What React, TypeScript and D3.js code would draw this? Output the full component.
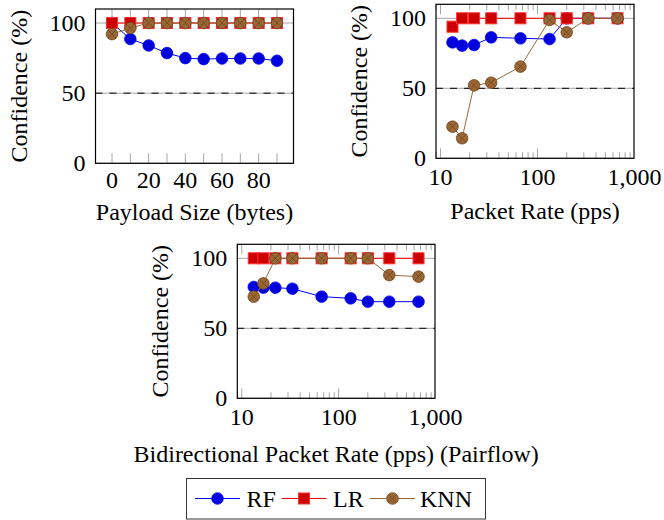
import React from "react";
import * as d3 from "d3";

// ---------- data ----------
const payloadSizes = [0, 10, 20, 30, 40, 50, 60, 70, 80, 90];
const payloadRF = [100, 88.6, 84, 78.6, 75, 74.3, 74.7, 74.7, 74.7, 73.1];
const payloadLR = [100, 100, 100, 100, 100, 100, 100, 100, 100, 100];
const payloadKNN = [92.1, 96.4, 100, 100, 100, 100, 100, 100, 100, 100];

const packetRates = [13.3, 16.7, 22.2, 33.3, 66.7, 133, 200, 333, 667];
const rateRF = [82.8, 80.5, 80.9, 86.4, 85.7, 85.2, 100, 100, 100];
const rateLR = [94, 100, 100, 100, 100, 100, 100, 100, 100];
const rateKNN = [22.6, 14.3, 52.1, 54, 65.5, 98.8, 90, 100, 100];

const pairRF = [79.5, 79, 79, 78.3, 72.6, 71.4, 69, 69, 69];
const pairLR = [100, 100, 100, 100, 100, 100, 100, 100, 100];
const pairKNN = [72.6, 82.1, 100, 100, 100, 100, 100, 88, 86.9];

const seriesNames = ["RF", "LR", "KNN"];
const yTicks = [0, 50, 100];
const yMax = 110;
const chanceLevel = 50;
const linearTicks = [0, 10, 20, 30, 40, 50, 60, 70, 80, 90];
const linearTickLabels = [0, 20, 40, 60, 80];
const logTickLabels = [10, 100, 1000];
const yLabel = "Confidence (%)";
const xLabels = [
  "Payload Size (bytes)",
  "Packet Rate (pps)",
  "Bidirectional Packet Rate (pps) (Pairflow)",
];

// ---------- style ----------
const FONT = "Liberation Serif";
const FS = 24;
const GRID = "#a6a6a6";
const styles = [
  { line: "#0000ff", fill: "#0000dd", stroke: "#0000ff", mark: "circle" },
  { line: "#ff0000", fill: "#cc0000", stroke: "#ff3030", mark: "square" },
  { line: "#9c6a3a", fill: "#9a6634", stroke: "#6e4622", mark: "otimes" },
];
const txt = { fontFamily: FONT, fontSize: FS + "px" } as any;

function Marker({ x, y, kind, s }: any) {
  if (kind === "circle")
    return <circle cx={x} cy={y} r={5.8} fill={s.fill} stroke={s.stroke} strokeWidth={0.8} />;
  if (kind === "square")
    return (
      <rect x={x - 5.5} y={y - 5.5} width={11} height={11} fill={s.fill} stroke={s.stroke} strokeWidth={1} />
    );
  const r = 5.8;
  const d = r * 0.7071;
  return (
    <g>
      <circle cx={x} cy={y} r={r} fill={s.fill} stroke={s.stroke} strokeWidth={0.8} />
      <line x1={x - d} y1={y - d} x2={x + d} y2={y + d} stroke={s.stroke} strokeWidth={0.8} />
      <line x1={x - d} y1={y + d} x2={x + d} y2={y - d} stroke={s.stroke} strokeWidth={0.8} />
    </g>
  );
}

function Panel({ left, top, w, h, xs, series, log, xLabel, xLabelY, yLabelX, tickLabelGap }: any) {
  const yScale = d3.scaleLinear().domain([0, yMax]).range([top + h, top]);
  let xScale: any;
  let majors: number[] = [];
  let minors: number[] = [];
  let labels: { v: number; t: string }[] = [];
  if (log) {
    const [a, b] = d3.extent(xs as number[]) as [number, number];
    const la = Math.log10(a);
    const lb = Math.log10(b);
    const pad = (lb - la) * 0.1;
    const dom = [Math.pow(10, la - pad), Math.pow(10, lb + pad)];
    xScale = d3.scaleLog().domain(dom).range([left, left + w]);
    for (let k = 0; k <= 3; k++) {
      for (let m = 1; m <= 9; m++) {
        const v = m * Math.pow(10, k);
        if (v < dom[0] || v > dom[1]) continue;
        if (m === 1) majors.push(v);
        else minors.push(v);
      }
    }
    labels = logTickLabels.map((v) => ({ v, t: d3.format(",")(v) }));
  } else {
    const [a, b] = d3.extent(xs as number[]) as [number, number];
    const pad = (b - a) * 0.1;
    xScale = d3.scaleLinear().domain([a - pad, b + pad]).range([left, left + w]);
    majors = linearTicks;
    labels = linearTickLabels.map((v) => ({ v, t: String(v) }));
  }
  const bottom = top + h;
  const lineGen = d3
    .line<[number, number]>()
    .x((d) => xScale(d[0]))
    .y((d) => yScale(d[1]));
  return (
    <g>
      {yTicks.map((t) => (
        <line key={"g" + t} x1={left} x2={left + w} y1={yScale(t)} y2={yScale(t)} stroke={GRID} strokeWidth={1} />
      ))}
      {majors.map((t) => (
        <g key={"M" + t}>
          <line x1={xScale(t)} x2={xScale(t)} y1={bottom} y2={bottom - 10} stroke={GRID} strokeWidth={1} />
          <line x1={xScale(t)} x2={xScale(t)} y1={top} y2={top + 10} stroke={GRID} strokeWidth={1} />
        </g>
      ))}
      {minors.map((t) => (
        <g key={"m" + t}>
          <line x1={xScale(t)} x2={xScale(t)} y1={bottom} y2={bottom - 6} stroke={GRID} strokeWidth={1} />
          <line x1={xScale(t)} x2={xScale(t)} y1={top} y2={top + 6} stroke={GRID} strokeWidth={1} />
        </g>
      ))}
      <line
        x1={left}
        x2={left + w}
        y1={yScale(chanceLevel)}
        y2={yScale(chanceLevel)}
        stroke="#000"
        strokeWidth={1}
        strokeDasharray="7 7"
      />
      {series.map((ys: number[], i: number) => {
        const pts: [number, number][] = xs.map((x: number, j: number) => [x, ys[j]]);
        return (
          <g key={"s" + i}>
            <path d={lineGen(pts) || ""} fill="none" stroke={styles[i].line} strokeWidth={1} />
            {pts.map((p, j) => (
              <Marker key={j} x={xScale(p[0])} y={yScale(p[1])} kind={styles[i].mark} s={styles[i]} />
            ))}
          </g>
        );
      })}
      <rect x={left} y={top} width={w} height={h} fill="none" stroke="#000" strokeWidth={1.2} />
      {yTicks.map((t) => (
        <text key={"yl" + t} x={left - 10} y={yScale(t) + 8} textAnchor="end" style={txt}>
          {t}
        </text>
      ))}
      {labels.map((l) => (
        <text key={"xl" + l.v} x={xScale(l.v)} y={bottom + tickLabelGap} textAnchor="middle" style={txt}>
          {l.t}
        </text>
      ))}
      <text x={left + w / 2} y={xLabelY} textAnchor="middle" style={txt}>
        {xLabel}
      </text>
      <text transform={`translate(${yLabelX},${top + h / 2}) rotate(-90)`} textAnchor="middle" style={txt}>
        {yLabel}
      </text>
    </g>
  );
}

function Legend() {
  const x0 = 186.5;
  const y0 = 478.5;
  const cy = 498.5;
  const entries = [
    { lx: 195, tx: 246.5 },
    { lx: 281.5, tx: 333 },
    { lx: 370, tx: 420 },
  ];
  return (
    <g>
      <rect x={x0} y={y0} width={299} height={40.5} fill="#fff" stroke="#333" strokeWidth={1} />
      {entries.map((e, i) => (
        <g key={i}>
          <line x1={e.lx} x2={e.lx + 45} y1={cy} y2={cy} stroke={styles[i].line} strokeWidth={1} />
          <Marker x={e.lx + 22.5} y={cy} kind={styles[i].mark} s={styles[i]} />
          <text x={e.tx} y={cy + 8} style={txt}>
            {seriesNames[i]}
          </text>
        </g>
      ))}
    </g>
  );
}

export default function App() {
  return (
    <svg
      width={664}
      height={520}
      viewBox="0 0 664 520"
      style={{ position: "absolute", left: 0, top: 0, background: "#fff" }}
    >
      <rect x={0} y={0} width={664} height={520} fill="#fff" />
      <Panel
        left={95.5}
        top={9}
        w={198}
        h={154.3}
        xs={payloadSizes}
        series={[payloadRF, payloadLR, payloadKNN]}
        log={false}
        xLabel={xLabels[0]}
        xLabelY={220}
        yLabelX={27}
        tickLabelGap={25}
      />
      <Panel
        left={436}
        top={4.3}
        w={198}
        h={154}
        xs={packetRates}
        series={[rateRF, rateLR, rateKNN]}
        log={true}
        xLabel={xLabels[1]}
        xLabelY={219}
        yLabelX={367}
        tickLabelGap={26.5}
      />
      <Panel
        left={237.3}
        top={244.3}
        w={197.7}
        h={154}
        xs={packetRates}
        series={[pairRF, pairLR, pairKNN]}
        log={true}
        xLabel={xLabels[2]}
        xLabelY={462}
        yLabelX={168}
        tickLabelGap={27}
      />
      <Legend />
    </svg>
  );
}
